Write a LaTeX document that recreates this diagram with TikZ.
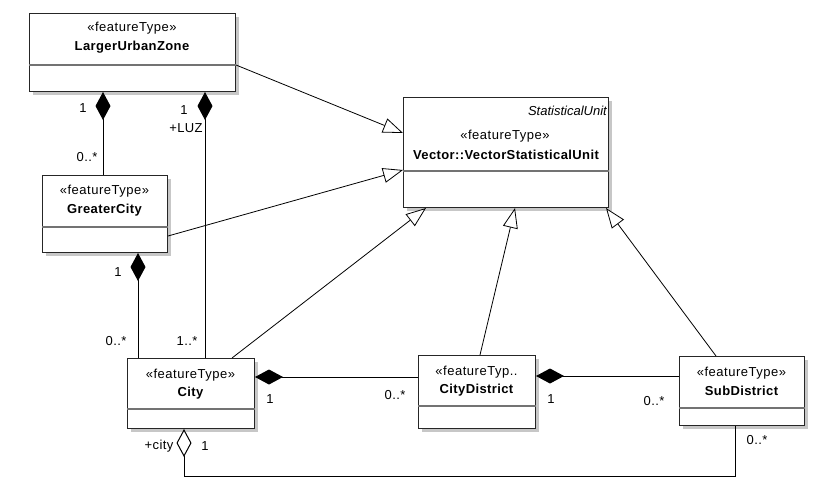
\documentclass[tikz,border=0pt]{standalone}
\usepackage{fontspec}
\setmainfont{Liberation Sans}
\usetikzlibrary{arrows.meta}
\begin{document}
\begin{tikzpicture}[x=1pt,y=-1pt,
  classbox/.style={draw=black!85, fill=white, line width=1pt, inner sep=0pt, anchor=north west},
  shadowbox/.style={fill=black!22, draw=none, inner sep=0pt, anchor=north west},
  sepline/.style={draw=black!55, line width=1.2pt},
  stereo/.style={font=\fontsize{13}{15}\selectfont\addfontfeatures{LetterSpace=4}, inner sep=0pt},
  cname/.style={font=\fontsize{13}{15}\selectfont\bfseries\addfontfeatures{LetterSpace=3}, inner sep=0pt},
  mult/.style={font=\fontsize{13}{15}\selectfont\addfontfeatures{LetterSpace=3}, inner sep=0pt},
  gen/.style={-{Triangle[open,length=20pt,width=15pt,fill=white]}, line width=0.8pt},
  comp/.style={{Diamond[length=28pt,width=15pt]}-, line width=1pt},
  aggr/.style={{Diamond[open,length=28pt,width=15pt,fill=white]}-, line width=1pt},
]
\path[use as bounding box, fill=white] (0,0) rectangle (839,483);

% LargerUrbanZone
\node[shadowbox, minimum width=206pt, minimum height=78pt] (luzs) at (33,17) {};
\node[classbox, minimum width=206pt, minimum height=78pt] (luz) at (29,13) {};
\draw[sepline] ([yshift=-52pt]luz.north west) -- ([yshift=-52pt]luz.north east);
\node[stereo] (luzst) at (132,28) {«featureType»};
\node[cname] (luzn) at (132,47) {LargerUrbanZone};

% VectorStatisticalUnit
\node[shadowbox, minimum width=205pt, minimum height=110pt] (vsus) at (407,101) {};
\node[classbox, minimum width=205pt, minimum height=110pt] (vsu) at (403,97) {};
\draw[sepline] ([yshift=-74pt]vsu.north west) -- ([yshift=-74pt]vsu.north east);
\node[stereo, font=\fontsize{13}{15}\selectfont\itshape, anchor=east] (vsuab) at (607,111) {StatisticalUnit};
\node[stereo] (vsust) at (505,136) {«featureType»};
\node[cname] (vsun) at (506,155) {Vector::VectorStatisticalUnit};

% GreaterCity
\node[shadowbox, minimum width=125pt, minimum height=77pt] (gcs) at (46,179) {};
\node[classbox, minimum width=125pt, minimum height=77pt] (gc) at (42,175) {};
\draw[sepline] ([yshift=-52pt]gc.north west) -- ([yshift=-52pt]gc.north east);
\node[stereo] (gcst) at (104.5,191) {«featureType»};
\node[cname] (gcn) at (104.5,210) {GreaterCity};

% City
\node[shadowbox, minimum width=127pt, minimum height=70pt] (citys) at (131,362) {};
\node[classbox, minimum width=127pt, minimum height=70pt] (city) at (127,358) {};
\draw[sepline] ([yshift=-51pt]city.north west) -- ([yshift=-51pt]city.north east);
\node[stereo] (cityst) at (190.5,375) {«featureType»};
\node[cname] (cityn) at (190.5,393) {City};

% CityDistrict
\node[shadowbox, minimum width=117pt, minimum height=73pt] (cds) at (422,359) {};
\node[classbox, minimum width=117pt, minimum height=73pt] (cd) at (418,355) {};
\draw[sepline] ([yshift=-51pt]cd.north west) -- ([yshift=-51pt]cd.north east);
\node[stereo] (cdst) at (476.5,372) {«featureTyp..};
\node[cname] (cdn) at (476.5,390) {CityDistrict};

% SubDistrict
\node[shadowbox, minimum width=125pt, minimum height=69pt] (sds) at (683,360) {};
\node[classbox, minimum width=125pt, minimum height=69pt] (sd) at (679,356) {};
\draw[sepline] ([yshift=-52pt]sd.north west) -- ([yshift=-52pt]sd.north east);
\node[stereo] (sdst) at (741.5,373) {«featureType»};
\node[cname] (sdn) at (741.5,391) {SubDistrict};

% compositions
\draw[comp] ([xshift=74pt]luz.south west) -- ([xshift=61pt]gc.north west);
\draw[comp] ([xshift=176pt]luz.south west) -- ([xshift=78pt]city.north west);
\draw[comp] ([xshift=96pt]gc.south west) -- ([xshift=11pt]city.north west);
\draw[comp] ([yshift=-19pt]city.north east) -- ([yshift=-22pt]cd.north west);
\draw[comp] ([yshift=-21pt]cd.north east) -- ([yshift=-20pt]sd.north west);

% aggregation
\coordinate (cagg) at ([xshift=57pt]city.south west);
\coordinate (sagg) at ([xshift=56pt]sd.south west);
\coordinate (bot) at (0,476);
\draw[aggr] (cagg) -- (cagg |- bot) -| (sagg);

% generalizations
\draw[gen] ([yshift=-52pt]luz.north east) -- ([yshift=-36pt]vsu.north west);
\draw[gen] ([yshift=-61pt]gc.north east) -- ([yshift=-73pt]vsu.north west);
\draw[gen] ([xshift=105pt]city.north west) -- ([xshift=23pt]vsu.south west);
\draw[gen] ([xshift=62pt]cd.north west) -- ([xshift=112pt]vsu.south west);
\draw[gen] ([xshift=37pt]sd.north west) -- ([xshift=203pt]vsu.south west);

% multiplicities
\node[mult] (m1) at (83,108) {1};
\node[mult] (m2) at (87,157) {0..*};
\node[mult] (m3) at (184,110) {1};
\node[mult] (m4) at (186,128) {+LUZ};
\node[mult] (m5) at (118,272) {1};
\node[mult] (m6) at (116,341) {0..*};
\node[mult] (m7) at (187,341) {1..*};
\node[mult] (m8) at (270,399) {1};
\node[mult] (m9) at (395,395) {0..*};
\node[mult] (m10) at (551,399) {1};
\node[mult] (m11) at (654,401) {0..*};
\node[mult] (m12) at (159,446) {+city};
\node[mult] (m13) at (205,446) {1};
\node[mult] (m14) at (757,440) {0..*};
\end{tikzpicture}
\end{document}
